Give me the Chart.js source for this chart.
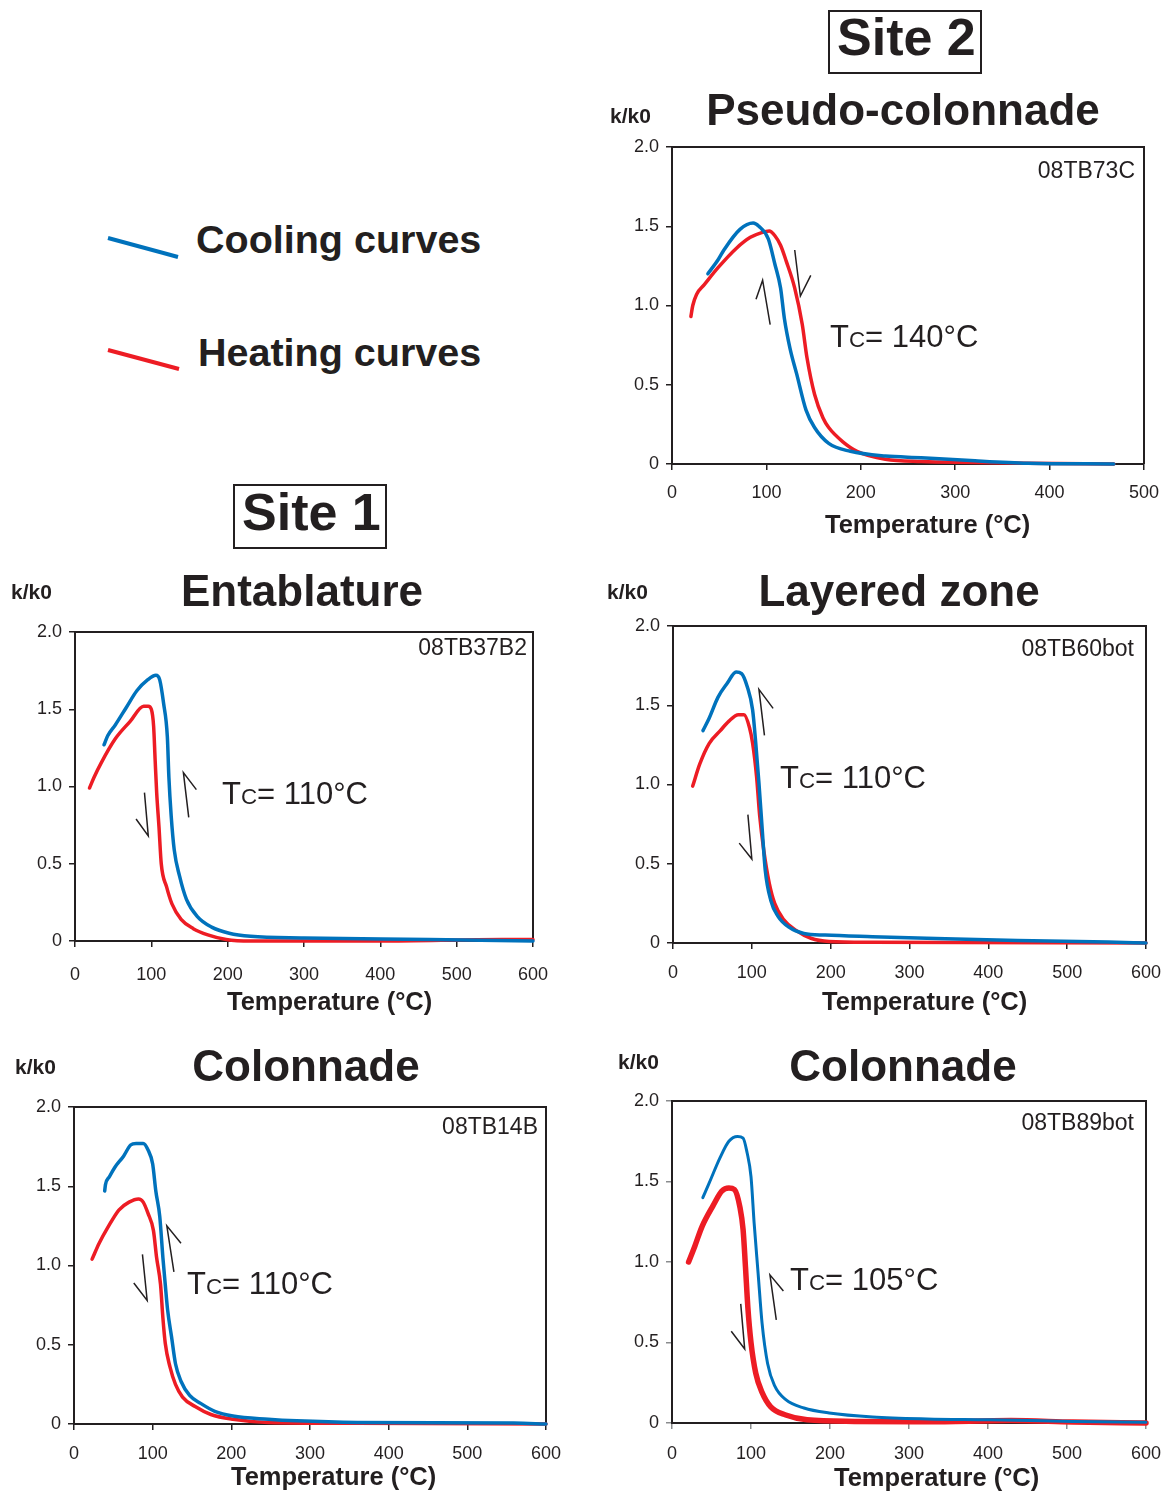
<!DOCTYPE html>
<html>
<head>
<meta charset="utf-8">
<script src="https://cdn.jsdelivr.net/npm/chart.js@4.4.1/dist/chart.umd.min.js"></script>
<style>
  body { margin: 0; background: #fff; width: 1169px; height: 1491px; position: relative; overflow: hidden;
         font-family: "Liberation Sans", Arial, sans-serif; color: #231f20; }
  .t { position: absolute; white-space: nowrap; line-height: 1; }
  .b { font-weight: bold; }
  .box { position: absolute; border: 2px solid #231f20; box-sizing: border-box; }
</style>
</head>
<body>
<svg width="1169" height="1491" style="position:absolute;left:0;top:0">
  <line x1="108" y1="238" x2="178" y2="257" stroke="#0072bc" stroke-width="4"/>
  <line x1="108" y1="350" x2="179" y2="369" stroke="#ed1c24" stroke-width="4"/>
</svg>
<div class="box" style="left:828px;top:10px;width:154px;height:64px"></div>
<div class="box" style="left:233px;top:484px;width:154px;height:65px"></div>
<script>
// axis ticks
const tempTicks500 = [0, 100, 200, 300, 400, 500];
const tempTicks600 = [0, 100, 200, 300, 400, 500, 600];
const kTicks = [0, 0.5, 1.0, 1.5, 2.0];

// Site 2 - Pseudo-colonnade, 08TB73C
const heat73C_T = [20, 22, 26, 34, 49, 68, 83, 95, 103, 109, 115, 121, 130, 138, 143, 151, 160, 166, 181, 196, 226, 264, 320, 377, 468];
const heat73C_k = [0.93, 1.00, 1.07, 1.13, 1.24, 1.36, 1.43, 1.46, 1.47, 1.44, 1.38, 1.28, 1.11, 0.88, 0.67, 0.44, 0.29, 0.23, 0.14, 0.08, 0.03, 0.015, 0.01, 0.005, 0.0];
const cool73C_T = [38, 49, 55, 72, 86, 92, 102, 109, 115, 119, 125, 132, 142, 151, 166, 189, 226, 264, 321, 377, 468];
const cool73C_k = [1.20, 1.29, 1.35, 1.48, 1.52, 1.50, 1.42, 1.26, 1.11, 0.92, 0.73, 0.57, 0.34, 0.23, 0.13, 0.08, 0.05, 0.04, 0.02, 0.005, 0.0];

// Site 1 - Entablature, 08TB37B2
const heat37B2_T = [19, 25, 34, 53, 72, 90, 96, 100, 103, 105, 107, 110, 113, 120, 127, 139, 155, 174, 198, 230, 400, 560, 600];
const heat37B2_k = [0.99, 1.06, 1.15, 1.31, 1.42, 1.52, 1.52, 1.50, 1.39, 1.17, 0.96, 0.74, 0.50, 0.35, 0.24, 0.14, 0.08, 0.04, 0.01, 0.0, 0.0, 0.01, 0.01];
const cool37B2_T = [38, 43, 53, 67, 81, 95, 106, 111, 116, 121, 123, 126, 130, 137, 146, 160, 179, 202, 230, 300, 464, 600];
const cool37B2_k = [1.27, 1.33, 1.40, 1.51, 1.62, 1.69, 1.72, 1.69, 1.54, 1.32, 1.06, 0.81, 0.59, 0.42, 0.27, 0.16, 0.09, 0.05, 0.03, 0.02, 0.01, 0.0];

// Site 2 - Layered zone, 08TB60bot
const heat60_T = [25, 34, 46, 60, 71, 83, 90, 97, 101, 106, 110, 115, 122, 129, 140, 156, 175, 198, 253, 600];
const heat60_k = [0.99, 1.13, 1.26, 1.34, 1.40, 1.44, 1.44, 1.36, 1.26, 1.05, 0.80, 0.59, 0.38, 0.25, 0.15, 0.08, 0.03, 0.01, 0.005, 0.0];
const cool60_T = [38, 46, 57, 69, 80, 87, 94, 101, 105, 109, 113, 117, 124, 133, 147, 166, 193, 253, 322, 437, 552, 600];
const cool60_k = [1.34, 1.42, 1.55, 1.64, 1.71, 1.70, 1.62, 1.47, 1.26, 1.01, 0.73, 0.46, 0.27, 0.17, 0.10, 0.06, 0.05, 0.04, 0.03, 0.015, 0.006, 0.0];

// Site 1 - Colonnade, 08TB14B
const heat14B_T = [23, 32, 43, 57, 70, 82, 88, 94, 101, 105, 110, 113, 116, 122, 129, 138, 154, 174, 202, 247, 360, 600];
const heat14B_k = [1.04, 1.14, 1.24, 1.35, 1.40, 1.42, 1.40, 1.33, 1.22, 1.05, 0.88, 0.67, 0.51, 0.36, 0.25, 0.17, 0.11, 0.06, 0.03, 0.01, 0.004, 0.0];
const cool14B_T = [39, 40, 45, 52, 63, 72, 79, 88, 94, 100, 104, 109, 113, 116, 119, 124, 129, 136, 147, 161, 179, 202, 247, 283, 360, 559, 600];
const cool14B_k = [1.47, 1.51, 1.56, 1.62, 1.69, 1.76, 1.77, 1.77, 1.73, 1.64, 1.47, 1.31, 1.05, 0.88, 0.72, 0.55, 0.38, 0.27, 0.18, 0.13, 0.08, 0.05, 0.03, 0.02, 0.01, 0.006, 0.0];

// Site 2 - Colonnade, 08TB89bot
const heat89_T = [21, 29, 38, 52, 63, 72, 79, 86, 90, 93, 96, 100, 106, 114, 125, 144, 171, 231, 323, 429, 507, 600];
const heat89_k = [1.00, 1.10, 1.22, 1.35, 1.44, 1.46, 1.45, 1.34, 1.20, 0.97, 0.72, 0.50, 0.31, 0.19, 0.10, 0.05, 0.02, 0.01, 0.008, 0.015, 0.006, 0.0];
const cool89_T = [39, 47, 61, 72, 83, 90, 95, 100, 104, 109, 114, 121, 130, 144, 167, 199, 254, 323, 401, 507, 600];
const cool89_k = [1.40, 1.49, 1.65, 1.75, 1.78, 1.77, 1.68, 1.53, 1.24, 0.93, 0.62, 0.37, 0.23, 0.145, 0.093, 0.062, 0.037, 0.025, 0.02, 0.01, 0.004];

// half-arrows in data units: tail -> head -> barb
const arrows73C = [[104, 0.88, 96, 1.16, 89, 1.04], [130, 1.35, 136, 1.06, 147, 1.19]];
const arrows37B2 = [[91, 0.96, 96, 0.68, 80, 0.79], [149, 0.80, 142, 1.09, 159, 0.98]];
const arrows60 = [[116, 1.31, 109, 1.60, 127, 1.48], [95, 0.81, 100, 0.53, 84, 0.63]];
const arrows14B = [[87, 1.07, 93, 0.78, 76, 0.89], [127, 0.96, 118, 1.25, 136, 1.14]];
const arrows89 = [[132, 0.64, 124, 0.92, 141, 0.82], [87, 0.74, 92, 0.46, 75, 0.57]];

const ink = '#231f20';
const blue = '#0072bc';
const red = '#ed1c24';

Chart.defaults.font.family = '"Liberation Sans", Arial, sans-serif';
Chart.defaults.color = ink;

function pts(xs, ys) {
  return xs.map((x, i) => ({ x: x, y: ys[i] }));
}

function addText(html, x, baseline, size, bold, align) {
  const d = document.createElement('div');
  d.className = 't' + (bold ? ' b' : '');
  d.innerHTML = html;
  d.style.fontSize = size + 'px';
  d.style.left = x + 'px';
  d.style.top = (baseline - size * 0.847) + 'px';
  if (align === 'center') d.style.transform = 'translateX(-50%)';
  if (align === 'right') d.style.transform = 'translateX(-100%)';
  document.body.appendChild(d);
}

const framePlugin = {
  id: 'frame',
  beforeDatasetsDraw(chart) {
    const a = chart.chartArea, ctx = chart.ctx;
    ctx.save();
    ctx.strokeStyle = ink;
    ctx.lineWidth = 2;
    ctx.beginPath();
    ctx.moveTo(a.left, a.top);
    ctx.lineTo(a.right, a.top);
    ctx.lineTo(a.right, a.bottom);
    ctx.stroke();
    ctx.restore();
  },
  afterDatasetsDraw(chart, args, opts) {
    const ctx = chart.ctx, xs = chart.scales.x, ys = chart.scales.y;
    ctx.save();
    ctx.strokeStyle = ink;
    ctx.lineWidth = 1.5;
    (opts.arrows || []).forEach(a => {
      ctx.beginPath();
      ctx.moveTo(xs.getPixelForValue(a[0]), ys.getPixelForValue(a[1]));
      ctx.lineTo(xs.getPixelForValue(a[2]), ys.getPixelForValue(a[3]));
      ctx.lineTo(xs.getPixelForValue(a[4]), ys.getPixelForValue(a[5]));
      ctx.stroke();
    });
    ctx.restore();
  }
};

function makePanel(p) {
  const padL = 75, padT = 30, padR = 40, axisH = 50;
  const [l, t, r, b] = p.rect;
  const w = r - l + padL + padR;
  const h = b - t + padT + axisH;
  const cv = document.createElement('canvas');
  cv.width = w;
  cv.height = h;
  cv.style.cssText = 'position:absolute;left:' + (l - padL) + 'px;top:' + (t - padT) + 'px;width:' + w + 'px;height:' + h + 'px';
  document.body.appendChild(cv);

  const tickColor = p.tickColor || ink;
  new Chart(cv, {
    type: 'line',
    data: {
      datasets: [
        { label: 'Cooling curves', data: pts(p.coolT, p.coolK), borderColor: blue, borderWidth: p.coolW || 3.5 },
        { label: 'Heating curves', data: pts(p.heatT, p.heatK), borderColor: red, borderWidth: p.heatW || 3.5 }
      ]
    },
    options: {
      responsive: false,
      animation: false,
      devicePixelRatio: 1,
      layout: { padding: { left: 0, top: padT, right: padR, bottom: 0 } },
      elements: {
        point: { radius: 0 },
        line: { cubicInterpolationMode: 'monotone', borderCapStyle: 'round', borderJoinStyle: 'round' }
      },
      datasets: { line: { clip: false } },
      plugins: { legend: { display: false }, tooltip: { enabled: false }, frame: { arrows: p.arrows } },
      scales: {
        x: {
          type: 'linear', min: 0, max: p.xTicks[p.xTicks.length - 1],
          afterBuildTicks: s => { s.ticks = p.xTicks.map(v => ({ value: v })); },
          afterFit: s => { s.height = axisH; },
          ticks: { font: { size: 18 }, color: ink, padding: p.xPad, maxRotation: 0, autoSkip: false },
          grid: { drawOnChartArea: false, drawTicks: true, tickLength: 6, color: tickColor, lineWidth: 1.5 },
          border: { display: true, color: ink, width: 2 }
        },
        y: {
          type: 'linear', min: 0, max: 2,
          afterBuildTicks: s => { s.ticks = kTicks.map(v => ({ value: v })); },
          afterFit: s => { s.width = padL; },
          ticks: { font: { size: 18 }, color: ink, padding: 7, callback: v => v === 0 ? '0' : v.toFixed(1) },
          grid: { drawOnChartArea: false, drawTicks: true, tickLength: 6, color: tickColor, lineWidth: 1.5 },
          border: { display: true, color: ink, width: 2 }
        }
      }
    },
    plugins: [framePlugin]
  });

  addText(p.title, p.titleX, p.titleY, 44, true, 'center');
  addText('k/k0', p.kX, p.kY, 21, true, 'left');
  addText(p.sample, p.sampleX, p.sampleY, 23, false, 'right');
  addText('Temperature (°C)', p.tempX, p.tempY, 25.5, true, 'left');
  addText('T<span style="font-size:0.72em">C</span>= ' + p.tc + '°C', p.tcX, p.tcY, 31, false, 'left');
}

makePanel({
  rect: [672, 147, 1144, 464], xTicks: tempTicks500, xPad: 12,
  heatT: heat73C_T, heatK: heat73C_k, coolT: cool73C_T, coolK: cool73C_k, arrows: arrows73C,
  title: 'Pseudo-colonnade', titleX: 903, titleY: 125,
  kX: 610, kY: 123, sample: '08TB73C', sampleX: 1135, sampleY: 178,
  tempX: 825, tempY: 534, tc: '140', tcX: 830, tcY: 347
});
makePanel({
  rect: [75, 632, 533, 941], xTicks: tempTicks600, xPad: 17,
  heatT: heat37B2_T, heatK: heat37B2_k, coolT: cool37B2_T, coolK: cool37B2_k, arrows: arrows37B2,
  title: 'Entablature', titleX: 302, titleY: 606,
  kX: 11, kY: 599, sample: '08TB37B2', sampleX: 527, sampleY: 655,
  tempX: 227, tempY: 1011, tc: '110', tcX: 222, tcY: 804
});
makePanel({
  rect: [673, 626, 1146, 943], xTicks: tempTicks600, xPad: 13,
  heatT: heat60_T, heatK: heat60_k, coolT: cool60_T, coolK: cool60_k, arrows: arrows60,
  title: 'Layered zone', titleX: 899, titleY: 606,
  kX: 607, kY: 599, sample: '08TB60bot', sampleX: 1134, sampleY: 656,
  tempX: 822, tempY: 1011, tc: '110', tcX: 780, tcY: 788
});
makePanel({
  rect: [74, 1107, 546, 1424], xTicks: tempTicks600, xPad: 13,
  heatT: heat14B_T, heatK: heat14B_k, coolT: cool14B_T, coolK: cool14B_k, arrows: arrows14B,
  title: 'Colonnade', titleX: 306, titleY: 1081,
  kX: 15, kY: 1074, sample: '08TB14B', sampleX: 538, sampleY: 1134,
  tempX: 231, tempY: 1486, tc: '110', tcX: 187, tcY: 1294
});
makePanel({
  rect: [672, 1101, 1146, 1423], xTicks: tempTicks600, xPad: 14,
  heatT: heat89_T, heatK: heat89_k, coolT: cool89_T, coolK: cool89_k, arrows: arrows89,
  coolW: 3, heatW: 5.5, tickColor: '#8a8c8e',
  title: 'Colonnade', titleX: 903, titleY: 1081,
  kX: 618, kY: 1069, sample: '08TB89bot', sampleX: 1134, sampleY: 1130,
  tempX: 834, tempY: 1487, tc: '105', tcX: 790, tcY: 1290
});

// headings and legend
addText('Site 2', 837, 55, 52, true, 'left');
addText('Site 1', 242, 530, 52, true, 'left');
addText('Cooling curves', 196, 253, 39.5, true, 'left');
addText('Heating curves', 198, 366, 39.5, true, 'left');
</script>
</body>
</html>
